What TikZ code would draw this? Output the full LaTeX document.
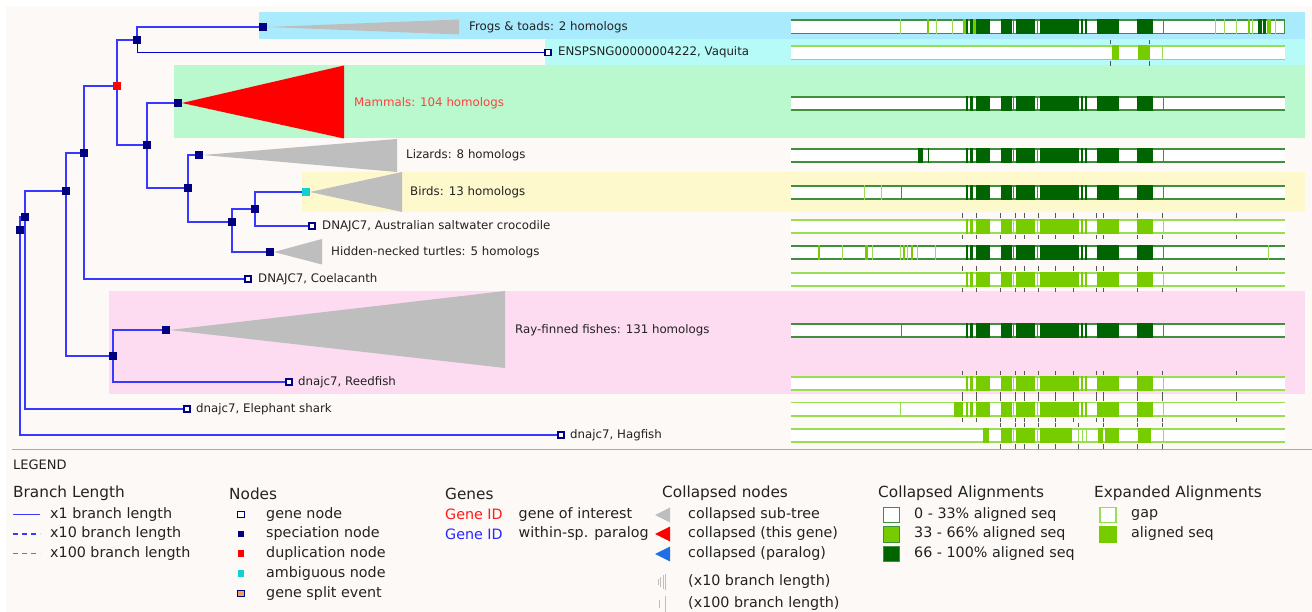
\documentclass[tikz,border=0pt]{standalone}
\usepackage{fontspec}
\setmainfont{DejaVu Sans}
\definecolor{panel}{HTML}{FDF9F6}
\definecolor{bfrog}{HTML}{A9EAFD}
\definecolor{bvaq}{HTML}{B7FBF9}
\definecolor{bmam}{HTML}{B9F9CD}
\definecolor{bbird}{HTML}{FEF9CD}
\definecolor{bray}{HTML}{FDDCF1}
\definecolor{navy}{HTML}{000080}
\definecolor{treeblue}{HTML}{3838FF}
\definecolor{vaqblue}{HTML}{0000CC}
\definecolor{collgray}{HTML}{BEBEBE}
\definecolor{dkgreen}{HTML}{006400}
\definecolor{ltgreen}{HTML}{77CC00}
\definecolor{cbord}{HTML}{3F8F3F}
\definecolor{ebord}{HTML}{99DD55}
\definecolor{tickc}{HTML}{555555}
\definecolor{ambc}{HTML}{11D0D0}
\definecolor{dupc}{HTML}{FF0000}
\definecolor{lred}{HTML}{FF4040}
\definecolor{txt}{HTML}{222222}
\definecolor{splitc}{HTML}{F0A060}
\definecolor{parablue}{HTML}{1E6EE6}
\definecolor{sepgray}{HTML}{A8A8A8}
\newcommand\tfont{\fontsize{11.8}{14}\selectfont}
\newcommand\lfont{\fontsize{14.3}{17}\selectfont}
\newcommand\hfont{\fontsize{15.3}{18}\selectfont}
\newcommand\gfont{\fontsize{13}{15}\selectfont}
\def\core{966/968,970/973,976/990,1001/1012,1016/1035,1040/1079,1081/1083,1085/1087,1097/1119,1137/1153}
\def\coremid{1013.5,1037.5,1163}
\def\tickset{962.3,976.7,1000.3,1015,1024,1038.3,1055.3,1073.7,1096,1103.7,1137,1162.7,1236}
% #1 ytop, #2 border colour, #3 block colour, #4 segment list macro
\newcommand\alrow[4]{%
  \fill[white] (791,#1) rectangle (1285,#1+15);
  \draw[#2, line width=1.6pt] (791,#1+0.8) -- (1285,#1+0.8) (791,#1+14.2) -- (1285,#1+14.2);
  \foreach \a/\b in #4 {\fill[#3] (\a,#1) rectangle (\b,#1+15);}
}
\newcommand\althin[3]{%
  \foreach \a in #3 {\draw[#2, line width=1pt] (\a,#1) -- (\a,#1+15);}
}
\newcommand\alticks[2]{%
  \foreach \a in #2 {\draw[tickc, line width=1pt] (\a,#1-5.5) -- (\a,#1-1) (\a,#1+16) -- (\a,#1+20.5);}
}
\pgfdeclarelayer{bg}
\pgfsetlayers{bg,main}
\begin{document}
\begin{tikzpicture}[x=1pt,y=-1pt,
  spec/.style={rectangle, fill=navy, minimum size=7.5pt, inner sep=0pt},
  leaf/.style={rectangle, draw=navy, fill=white, line width=1.1pt, minimum size=6pt, inner sep=0pt},
  dupnode/.style={rectangle, fill=dupc, minimum size=7.5pt, inner sep=0pt},
  ambnode/.style={rectangle, fill=ambc, minimum size=7.5pt, inner sep=0pt},
  lbl/.style={anchor=west, inner sep=0pt, font=\tfont, text=txt},
  edge/.style={draw=treeblue, line width=1.5pt},
  leg/.style={anchor=west, inner sep=0pt, font=\lfont, text=txt},
  head/.style={anchor=west, inner sep=0pt, font=\hfont, text=txt},
  icon/.style={rectangle, minimum size=6.5pt, inner sep=0pt},
  abox/.style={rectangle, minimum width=16pt, minimum height=15.5pt, inner sep=0pt, line width=1.3pt}
]
\useasboundingbox (0,0) rectangle (1312,612);
\begin{pgfonlayer}{bg}
  \fill[white] (0,0) rectangle (1312,612);
  \fill[panel] (6,6) rectangle (1312,612);
  \fill[bfrog] (259,12.5) rectangle (1305,39);
  \fill[bvaq] (545,39) rectangle (1305,65.5);
  \fill[bmam] (174,65.5) rectangle (1305,138.5);
  \fill[bbird] (302,172) rectangle (1305,212);
  \fill[bray] (109,291) rectangle (1305,394);
  \draw[sepgray, line width=1.8pt] (12,449.5) -- (1312,449.5);
\end{pgfonlayer}

% tree nodes
\node[spec] (root) at (20,230) {};
\node[spec] (nB) at (25,217) {};
\node[spec] (nA) at (66,191) {};
\node[spec] (nC) at (84,153) {};
\node[dupnode] (nD) at (117,86) {};
\node[spec] (nE) at (137,40) {};
\node[spec] (frog) at (263,27) {};
\node[leaf] (vaq) at (548,52.5) {};
\node[spec] (nF) at (147,145) {};
\node[spec] (mam) at (178,103) {};
\node[spec] (nG) at (188,188) {};
\node[spec] (liz) at (199,155) {};
\node[spec] (nH) at (232,222) {};
\node[spec] (nI) at (255,209) {};
\node[ambnode] (bird) at (306,192) {};
\node[leaf] (croc) at (312,226) {};
\node[spec] (tur) at (270,252) {};
\node[leaf] (coel) at (248,279) {};
\node[spec] (nJ) at (113,356) {};
\node[spec] (ray) at (166,330) {};
\node[leaf] (reed) at (289,382) {};
\node[leaf] (shark) at (187,409) {};
\node[leaf] (hag) at (561,435) {};

% collapsed sub-trees
\fill[collgray] (frog.east) -- (459,19.5) -- (459,34.5) -- cycle;
\fill[dupc] (mam.east) -- (344,65.5) -- (344,138.5) -- cycle;
\fill[collgray] (liz.east) -- (397,139) -- (397,172) -- cycle;
\fill[collgray] (bird.east) -- (402,172) -- (402,212) -- cycle;
\fill[collgray] (tur.east) -- (322,239) -- (322,264.5) -- cycle;
\fill[collgray] (ray.east) -- (505,291) -- (505,368) -- cycle;

% branches
\draw[edge] (root) |- (nB);
\draw[edge] (root) |- (hag);
\draw[edge] (nB) |- (nA);
\draw[edge] (nB) |- (shark);
\draw[edge] (nA) |- (nC);
\draw[edge] (nA) |- (nJ);
\draw[edge] (nC) |- (nD);
\draw[edge] (nC) |- (coel);
\draw[edge] (nD) |- (nE);
\draw[edge] (nD) |- (nF);
\draw[edge] (nE) |- (frog);
\draw[draw=vaqblue, line width=1pt] (nE) |- (vaq);
\draw[edge] (nF) |- (mam);
\draw[edge] (nF) |- (nG);
\draw[edge] (nG) |- (liz);
\draw[edge] (nG) |- (nH);
\draw[edge] (nH) |- (nI);
\draw[edge] (nH) |- (tur);
\draw[edge] (nI) |- (bird);
\draw[edge] (nI) |- (croc);
\draw[edge] (nJ) |- (ray);
\draw[edge] (nJ) |- (reed);

% labels
\node[lbl] (tfrog) at (469,27) {Frogs \& toads: 2 homologs};
\node[lbl] (tvaq) at (558,52.5) {ENSPSNG00000004222, Vaquita};
\node[lbl, text=lred] (tmam) at (354,103) {Mammals: 104 homologs};
\node[lbl] (tliz) at (406,155) {Lizards: 8 homologs};
\node[lbl] (tbird) at (410,192) {Birds: 13 homologs};
\node[lbl] (tcroc) at (322,226) {DNAJC7, Australian saltwater crocodile};
\node[lbl] (ttur) at (331,252) {Hidden-necked turtles: 5 homologs};
\node[lbl] (tcoel) at (258,279) {DNAJC7, Coelacanth};
\node[lbl] (tray) at (515,330) {Ray-finned fishes: 131 homologs};
\node[lbl] (treed) at (298,382) {dnajc7, Reedfish};
\node[lbl] (tshark) at (196,409) {dnajc7, Elephant shark};
\node[lbl] (thag) at (570,435) {dnajc7, Hagfish};

% alignments
% 1 frogs (collapsed)
\alrow{19.5}{cbord}{dkgreen}{\core}
\althin{19.5}{cbord}{\coremid}
\althin{19.5}{ebord}{{900.5,936,952.4,1215,1224.5,1236,1252.7,1275.7}}
\foreach \a/\b in {926.6/929.3,963/966,973/976,1247.5/1250,1266.7/1270.7} {\fill[ltgreen] (\a,19.5) rectangle (\b,34.5);}
\foreach \a/\b in {1257.5/1261.5,1263.3/1266} {\fill[dkgreen] (\a,19.5) rectangle (\b,34.5);}
\draw[cbord, line width=1.4pt] (1284.3,19.5) -- (1284.3,34.5);
% 2 vaquita (expanded)
\def\vaqseg{1111.7/1118.7,1137.7/1149.7}
\alrow{45.5}{ebord}{ltgreen}{\vaqseg}
\althin{45.5}{ebord}{{1162.7}}
\alticks{45.5}{{1110,1149.7}}
% 3 mammals
\alrow{96}{cbord}{dkgreen}{\core}
\althin{96}{cbord}{\coremid}
% 4 lizards
\alrow{148}{cbord}{dkgreen}{\core}
\althin{148}{cbord}{\coremid}
\foreach \a/\b in {918.3/923} {\fill[dkgreen] (\a,148) rectangle (\b,163);}
\althin{148}{dkgreen}{{928.3}}
% 5 birds
\alrow{185}{cbord}{dkgreen}{\core}
\althin{185}{cbord}{\coremid}
\althin{185}{ebord}{{864.8,881}}
\althin{185}{cbord}{{901}}
% 6 crocodile (expanded)
\alrow{219}{ebord}{ltgreen}{\core}
\althin{219}{ebord}{\coremid}
\alticks{219}{\tickset}
% 7 turtles (collapsed)
\alrow{245}{cbord}{dkgreen}{\core}
\althin{245}{cbord}{\coremid}
\foreach \a/\b in {817.7/820,865/867.5,903/905,910.6/912.5} {\fill[ltgreen] (\a,245) rectangle (\b,260);}
\althin{245}{ebord}{{842.7,872.7,900.5,907,917.4,935.4,1268.6}}
% 8 coelacanth (expanded)
\alrow{272}{ebord}{ltgreen}{\core}
\althin{272}{ebord}{\coremid}
\alticks{272}{\tickset}
% 9 ray-finned (collapsed)
\alrow{323}{cbord}{dkgreen}{\core}
\althin{323}{cbord}{\coremid}
\althin{323}{cbord}{{901}}
% 10 reedfish (expanded)
\alrow{376}{ebord}{ltgreen}{\core}
\althin{376}{ebord}{\coremid}
\alticks{376}{\tickset}
% 11 elephant shark (expanded)
\alrow{401.5}{ebord}{ltgreen}{\core}
\althin{401.5}{ebord}{\coremid}
\fill[ltgreen] (953.5,401.5) rectangle (963.3,416.5);
\althin{401.5}{ebord}{{900.7}}
\alticks{401.5}{\tickset}
% 12 hagfish (expanded)
\def\hagseg{982.7/989.3,1001/1012,1016/1035,1040/1071.7,1098/1103,1105/1118.7,1137.7/1151}
\alrow{428}{ebord}{ltgreen}{\hagseg}
\althin{428}{ebord}{{1013.5,1037.5,1078,1082,1086,1163}}
\alticks{428}{{1000.3,1015,1024,1038.3,1055.3,1078.5,1103.7,1137,1162.7}}

% ---------------- legend ----------------
\node[anchor=west, inner sep=0pt, font=\gfont, text=txt] (legend) at (13,465) {LEGEND};

\node[head] (hbl) at (13,493.5) {Branch Length};
\coordinate (bl1a) at (13,514.5); \coordinate (bl1b) at (40,514.5);
\coordinate (bl2a) at (13,534); \coordinate (bl2b) at (40,534);
\coordinate (bl3a) at (13,553.5); \coordinate (bl3b) at (40,553.5);
\draw[treeblue, line width=1.2pt] (bl1a) -- (bl1b);
\draw[treeblue, line width=1.2pt, dash pattern=on 5pt off 4pt] (bl2a) -- (bl2b);
\draw[lred, line width=1.3pt, dash pattern=on 5pt off 4pt] (bl3a) -- (bl3b);
\node[leg] (lbl1) at (50,514.5) {x1 branch length};
\node[leg] (lbl2) at (50,534) {x10 branch length};
\node[leg] (lbl3) at (50,553.5) {x100 branch length};

\node[head] (hnodes) at (229,493.5) {Nodes};
\node[icon, draw=navy, fill=white, line width=1.1pt] (ic1) at (241,514.5) {};
\node[icon, fill=navy] (ic2) at (241,534) {};
\node[icon, fill=dupc] (ic3) at (241,553.5) {};
\node[icon, fill=ambc] (ic4) at (241,573.5) {};
\node[icon, draw=navy, fill=splitc, line width=1.1pt] (ic5) at (241,593.5) {};
\node[leg] (ln1) at (266,514.5) {gene node};
\node[leg] (ln2) at (266,534) {speciation node};
\node[leg] (ln3) at (266,553.5) {duplication node};
\node[leg] (ln4) at (266,573.5) {ambiguous node};
\node[leg] (ln5) at (266,593.5) {gene split event};

\node[head] (hgenes) at (445,493.5) {Genes};
\node[leg, text=dupc!90!white] (gid1) at (445,514.5) {Gene ID};
\node[leg, text=blue!85!white] (gid2) at (445,534) {Gene ID};
\node[leg] (lg1) at (518.5,514.5) {gene of interest};
\node[leg] (lg2) at (518.5,534) {within-sp. paralog};

\node[head] (hcoll) at (662,493.5) {Collapsed nodes};
\fill[collgray] (655,515) -- (670,507.5) -- (670,522.5) -- cycle;
\fill[dupc] (655,534) -- (670,526.5) -- (670,541.5) -- cycle;
\fill[parablue] (655,554) -- (670,546.5) -- (670,561.5) -- cycle;
\foreach \x/\h in {658/3,660.5/5,663/7,665.5/8} {\draw[collgray, line width=0.8pt] (\x,582-\h) -- (\x,582+\h);}
\foreach \x/\h in {659/4,665/8} {\draw[collgray, line width=0.8pt] (\x,604-\h) -- (\x,604+\h);}
\node[leg] (lc1) at (688,515) {collapsed sub-tree};
\node[leg] (lc2) at (688,534) {collapsed (this gene)};
\node[leg] (lc3) at (688,554) {collapsed (paralog)};
\node[leg] (lc4) at (688,582) {(x10 branch length)};
\node[leg] (lc5) at (688,604) {(x100 branch length)};

\node[head] (hca) at (878,493.5) {Collapsed Alignments};
\node[abox, draw=cbord, fill=white] (ca1) at (891.5,515) {};
\node[abox, draw=cbord, fill=ltgreen] (ca2) at (891.5,534.5) {};
\node[abox, draw=cbord, fill=dkgreen] (ca3) at (891.5,554) {};
\node[leg] (lca1) at (914,514.5) {0 - 33\% aligned seq};
\node[leg] (lca2) at (914,534) {33 - 66\% aligned seq};
\node[leg] (lca3) at (914,553.5) {66 - 100\% aligned seq};

\node[head] (hea) at (1094,493.5) {Expanded Alignments};
\node[abox, draw=ebord, fill=white] (ea1) at (1108,515) {};
\node[abox, draw=ltgreen, fill=ltgreen] (ea2) at (1108,534.5) {};
\node[leg] (lea1) at (1131,514.5) {gap};
\node[leg] (lea2) at (1131,534) {aligned seq};
\end{tikzpicture}
\end{document}
